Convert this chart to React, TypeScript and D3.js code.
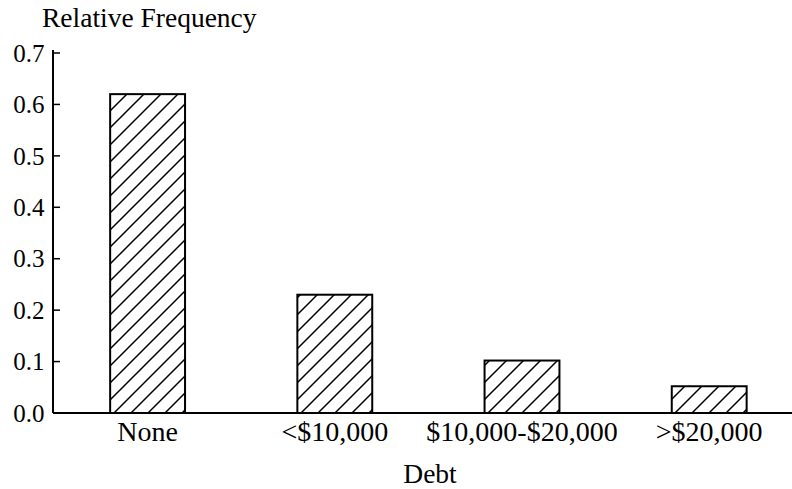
import React from "react";
import * as d3 from "d3";

const categories = ["None", "<$10,000", "$10,000-$20,000", ">$20,000"];
const values = [0.62, 0.23, 0.102, 0.052];
const yTicks = [0, 0.1, 0.2, 0.3, 0.4, 0.5, 0.6, 0.7];
const yTitle = "Relative Frequency";
const xTitle = "Debt";

const W = 792;
const H = 489;
const FONT = "'Liberation Serif', 'Times New Roman', serif";

export default function App() {
  const axisX = 53;
  const y = d3.scaleLinear().domain([0, 0.7]).range([413, 53]);
  const x = d3
    .scaleBand<string>()
    .domain(categories)
    .range([54, 54 + 4 * 187.2])
    .paddingInner(0.6)
    .paddingOuter(0.3);

  const hs = 17;
  return (
    <svg
      width={W}
      height={H}
      style={{ position: "absolute", left: 0, top: 0, background: "#fff" }}
      fontFamily={FONT}
    >
      <defs>
        <pattern id="hatch" patternUnits="userSpaceOnUse" width={hs} height={hs}>
          <path
            d={`M0,${hs} L${hs},0 M${-hs / 2},${hs / 2} L${hs / 2},${-hs / 2} M${hs / 2},${hs * 1.5} L${hs * 1.5},${hs / 2}`}
            stroke="#000"
            strokeWidth={1.5}
          />
        </pattern>
      </defs>
      <rect width={W} height={H} fill="#fff" />
      {categories.map((c, i) => (
        <rect
          key={c}
          x={x(c)!}
          y={y(values[i])}
          width={x.bandwidth()}
          height={y(0) - y(values[i])}
          fill="url(#hatch)"
          stroke="#000"
          strokeWidth={2}
        />
      ))}
      <line x1={axisX} x2={axisX} y1={y(0)} y2={y(0.7) - 3} stroke="#000" strokeWidth={2} />
      {yTicks.map((t) => (
        <g key={t}>
          <line x1={axisX} x2={axisX + 7} y1={y(t)} y2={y(t)} stroke="#000" strokeWidth={1.5} />
          <text
            x={axisX - 8.5}
            y={y(t)}
            dy="0.35em"
            textAnchor="end"
            fontSize={25}
            fill="#000"
          >
            {t.toFixed(1)}
          </text>
        </g>
      ))}
      <line x1={axisX} x2={W} y1={y(0)} y2={y(0)} stroke="#000" strokeWidth={2} />
      {categories.map((c) => (
        <text
          key={c}
          x={x(c)! + x.bandwidth() / 2}
          y={441}
          textAnchor="middle"
          fontSize={28}
          fill="#000"
        >
          {c}
        </text>
      ))}
      <text x={42} y={27} fontSize={27.5} fill="#000">
        {yTitle}
      </text>
      <text x={430} y={483} textAnchor="middle" fontSize={27.5} fill="#000">
        {xTitle}
      </text>
    </svg>
  );
}
